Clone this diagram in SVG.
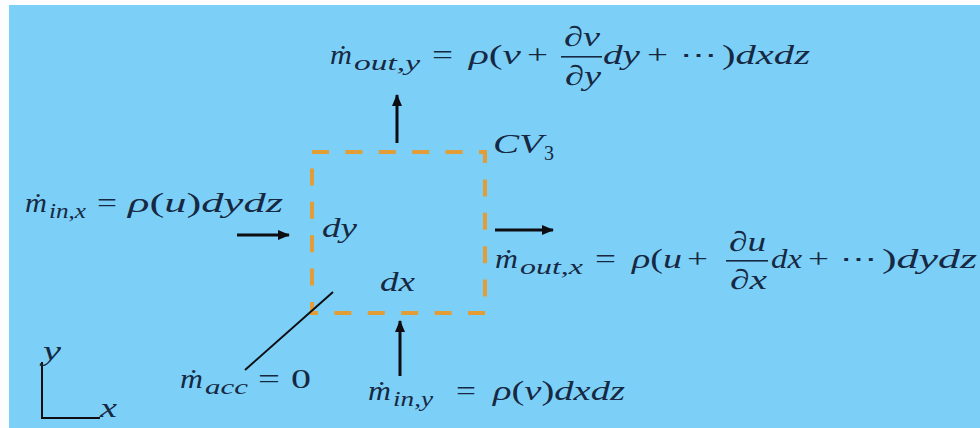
<svg xmlns="http://www.w3.org/2000/svg" width="980" height="428" viewBox="0 0 980 428">
<defs>
<style>
text{font-family:'Liberation Serif',serif;font-size:28px;fill:#172842;font-style:italic}
.r{font-style:normal}
.s{font-size:20px}
.arr{stroke:#0d0d12;stroke-width:3;fill:none}
.bar{fill:#172842}
.cv{fill:none;stroke:#e39d36;stroke-width:4;stroke-dasharray:17 16.4}
</style>
<marker id="ah" viewBox="0 0 12 10" refX="11" refY="5" markerWidth="12" markerHeight="10" markerUnits="userSpaceOnUse" orient="auto">
<path d="M0,0 L12,5 L0,10 Z" fill="#0d0d12"/>
</marker>
</defs>
<rect x="0" y="0" width="980" height="428" fill="#fbfdfe"/>
<rect x="9" y="5" width="971" height="423" fill="#7cd0f8"/>

<g font-family="Liberation Serif, serif">
<g id="control-volume">
<rect class="cv" x="312" y="152" width="173" height="161"/>
<text x="493" y="153" textLength="50" lengthAdjust="spacingAndGlyphs">CV</text>
<text class="r s" x="544" y="160" textLength="10" lengthAdjust="spacingAndGlyphs">3</text>
<text x="322" y="237" textLength="35" lengthAdjust="spacingAndGlyphs">dy</text>
<text x="380" y="291" textLength="35" lengthAdjust="spacingAndGlyphs">dx</text>
</g>

<g id="connectors">
<line class="arr" x1="397" y1="143" x2="397" y2="95" marker-end="url(#ah)"/>
<line class="arr" x1="400" y1="376" x2="400" y2="321" marker-end="url(#ah)"/>
<line class="arr" x1="237" y1="235" x2="289" y2="235" marker-end="url(#ah)"/>
<line class="arr" x1="495" y1="230" x2="553" y2="230" marker-end="url(#ah)"/>
<line x1="245" y1="370" x2="333" y2="292" stroke="#0d0d12" stroke-width="2"/>
<path d="M42,362 V418 H100" fill="none" stroke="#0d0d12" stroke-width="2"/>
</g>

<g id="m-out-y">
<text x="330" y="64" textLength="22" lengthAdjust="spacingAndGlyphs">ṁ</text>
<text class="s" x="354" y="70" textLength="66" lengthAdjust="spacingAndGlyphs">out,y</text>
<text class="r" x="432" y="64" textLength="21" lengthAdjust="spacingAndGlyphs">=</text>
<text x="469" y="64" textLength="52" lengthAdjust="spacingAndGlyphs">ρ<tspan class="r">(</tspan>v</text>
<text class="r" x="527" y="64" textLength="21" lengthAdjust="spacingAndGlyphs">+</text>
<text x="564" y="46" textLength="36" lengthAdjust="spacingAndGlyphs">∂v</text>
<rect class="bar" x="561" y="56" width="41" height="1.6"/>
<text x="565" y="85" textLength="36" lengthAdjust="spacingAndGlyphs">∂y</text>
<text x="603" y="64" textLength="37" lengthAdjust="spacingAndGlyphs">dy</text>
<text class="r" x="647" y="64" textLength="21" lengthAdjust="spacingAndGlyphs">+</text>
<text class="r" x="680" y="64" textLength="37" lengthAdjust="spacingAndGlyphs">⋯</text>
<text x="722" y="64" textLength="88" lengthAdjust="spacingAndGlyphs"><tspan class="r">)</tspan>dxdz</text>
</g>

<g id="m-out-x">
<text x="495" y="268" textLength="23" lengthAdjust="spacingAndGlyphs">ṁ</text>
<text class="s" x="520" y="274" textLength="63" lengthAdjust="spacingAndGlyphs">out,x</text>
<text class="r" x="595" y="268" textLength="21" lengthAdjust="spacingAndGlyphs">=</text>
<text x="632" y="268" textLength="50" lengthAdjust="spacingAndGlyphs">ρ<tspan class="r">(</tspan>u</text>
<text class="r" x="687" y="268" textLength="21" lengthAdjust="spacingAndGlyphs">+</text>
<text x="729" y="251" textLength="37" lengthAdjust="spacingAndGlyphs">∂u</text>
<rect class="bar" x="726" y="260" width="42" height="1.6"/>
<text x="730" y="289" textLength="37" lengthAdjust="spacingAndGlyphs">∂x</text>
<text x="771" y="268" textLength="31" lengthAdjust="spacingAndGlyphs">dx</text>
<text class="r" x="808" y="268" textLength="21" lengthAdjust="spacingAndGlyphs">+</text>
<text class="r" x="840" y="268" textLength="37" lengthAdjust="spacingAndGlyphs">⋯</text>
<text x="882" y="268" textLength="95" lengthAdjust="spacingAndGlyphs"><tspan class="r">)</tspan>dydz</text>
</g>

<g id="m-in-x">
<text x="25" y="212" textLength="22" lengthAdjust="spacingAndGlyphs">ṁ</text>
<text class="s" x="49" y="218" textLength="37" lengthAdjust="spacingAndGlyphs">in,x</text>
<text class="r" x="97" y="212" textLength="20" lengthAdjust="spacingAndGlyphs">=</text>
<text x="128" y="212" textLength="155" lengthAdjust="spacingAndGlyphs">ρ<tspan class="r">(</tspan>u<tspan class="r">)</tspan>dydz</text>
</g>

<g id="m-in-y">
<text x="368" y="400" textLength="23" lengthAdjust="spacingAndGlyphs">ṁ</text>
<text class="s" x="393" y="406" textLength="40" lengthAdjust="spacingAndGlyphs">in,y</text>
<text class="r" x="456" y="400" textLength="20" lengthAdjust="spacingAndGlyphs">=</text>
<text x="493" y="400" textLength="132" lengthAdjust="spacingAndGlyphs">ρ<tspan class="r">(</tspan>v<tspan class="r">)</tspan>dxdz</text>
</g>

<g id="m-acc">
<text x="180" y="388" textLength="23" lengthAdjust="spacingAndGlyphs">ṁ</text>
<text class="s" x="205" y="394" textLength="43" lengthAdjust="spacingAndGlyphs">acc</text>
<text class="r" x="258" y="388" textLength="22" lengthAdjust="spacingAndGlyphs">=</text>
<text class="r" x="291" y="388" textLength="20" lengthAdjust="spacingAndGlyphs">0</text>
</g>

<g id="axes">
<text x="43" y="360" textLength="18" lengthAdjust="spacingAndGlyphs">y</text>
<text x="100" y="417" textLength="17" lengthAdjust="spacingAndGlyphs">x</text>
</g>
</g>
</svg>
